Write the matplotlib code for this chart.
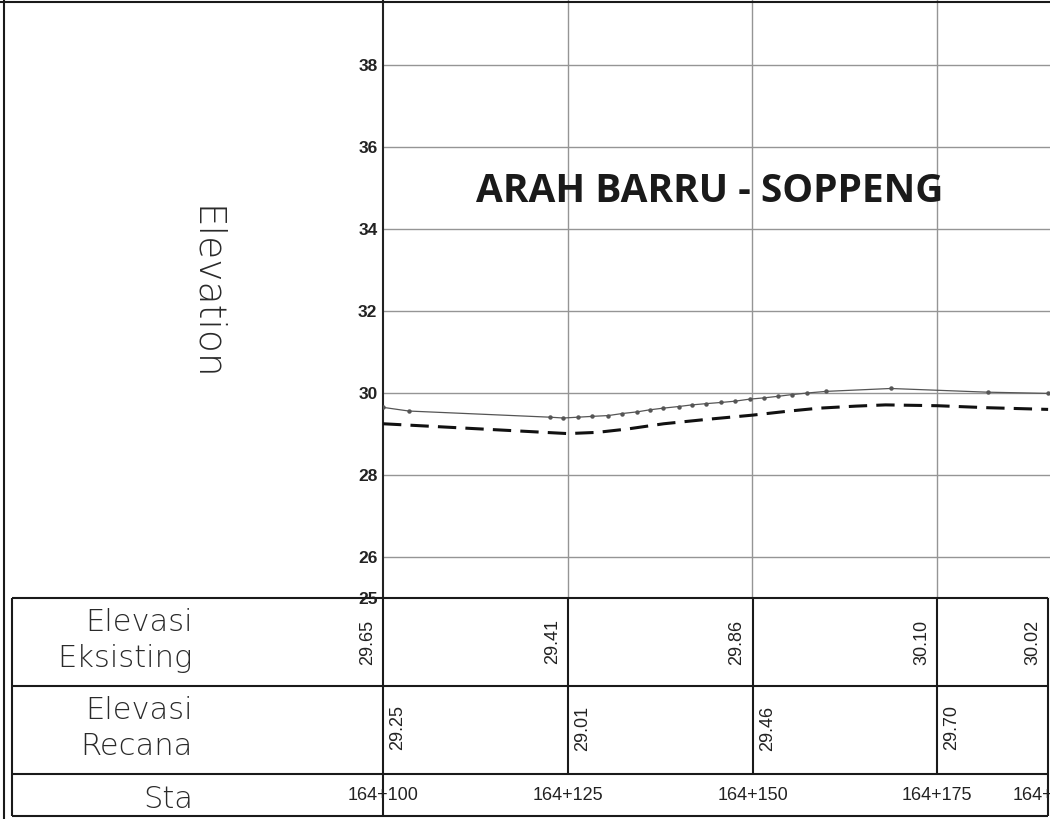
import matplotlib
matplotlib.use("Agg")
import matplotlib.pyplot as plt

# stations shown in the table (164+xxx)
stations = [100, 125, 150, 175, 190]
station_labels = ["164+100", "164+125", "164+150", "164+175", "164+190"]
elev_existing_tbl = [29.65, 29.41, 29.86, 30.10, 30.02]
elev_design_tbl = [29.25, 29.01, 29.46, 29.70]

# existing ground profile (thin line with survey dots)
existing_sta = [100, 103.5, 122.6, 124.4, 126.4, 128.3, 130.5, 132.4, 134.4, 136.1,
                137.9, 140.0, 141.8, 143.7, 145.8, 147.6, 149.6, 151.5, 153.5, 155.3,
                157.4, 160.0, 168.7, 181.8, 190.0]
existing_elev = [29.65, 29.56, 29.41, 29.39, 29.41, 29.43, 29.45, 29.50, 29.54, 29.59,
                 29.63, 29.67, 29.71, 29.74, 29.77, 29.80, 29.85, 29.88, 29.92, 29.96,
                 30.00, 30.04, 30.11, 30.02, 29.99]

# design profile (dashed)
design_sta = [100, 125, 129, 133, 138, 144, 150, 155, 159, 164, 168, 175, 182, 190]
design_elev = [29.25, 29.01, 29.04, 29.12, 29.25, 29.36, 29.46, 29.56, 29.63, 29.68,
               29.71, 29.69, 29.64, 29.60]

y_ticks = [25, 26, 28, 30, 32, 34, 36, 38]

W, H = 1050, 819
X0 = 383          # pixel column of 164+100
PX_PER_M = 7.39
PX_PER_UNIT = 41
PLOT_BOTTOM = 598  # pixel row of elevation 25 / table top
ROW1, ROW2, ROW3, ROW_END = 598, 686, 774, 816
LEFT_PX = 12


def px_to_sta(px):
    return 100 + (px - X0) / PX_PER_M


fig = plt.figure(figsize=(W / 100, H / 100), dpi=100)

# profile plot
ax = fig.add_axes([X0 / W, (H - PLOT_BOTTOM) / H, (W - X0) / W, PLOT_BOTTOM / H])
ax.set_xlim(100, px_to_sta(W))
ax.set_ylim(25, 25 + PLOT_BOTTOM / PX_PER_UNIT)
ax.set_yticks(y_ticks)
ax.set_yticklabels([str(t) for t in y_ticks], fontfamily="Liberation Sans",
                   fontweight="bold", fontsize=12.5, color="#222222")
ax.set_xticks(stations[1:4])
ax.set_xticklabels([])
ax.tick_params(length=0, pad=4)
ax.grid(True, color="#959595", linewidth=1.0)
for side in ["top", "right", "bottom"]:
    ax.spines[side].set_visible(False)
ax.spines["left"].set_linewidth(1.5)
ax.spines["left"].set_color("#222222")

ax.plot(existing_sta, existing_elev, color="#555555", linewidth=0.9,
        marker="o", markersize=2.2, zorder=3)
ax.plot(design_sta, design_elev, color="#111111", linewidth=2.2,
        linestyle=(0, (6, 3)), zorder=3)

# overlay in station / pixel coordinates for table and frame
tb = fig.add_axes([0, 0, 1, 1])
tb.set_xlim(px_to_sta(0), px_to_sta(W))
tb.set_ylim(H, 0)
tb.axis("off")
tb.patch.set_alpha(0)

line_kw = dict(color="#1a1a1a", linewidth=1.5)
x_left = px_to_sta(LEFT_PX)
x_right = stations[-1]
for y in [ROW1, ROW2, ROW3, ROW_END]:
    tb.hlines(y, x_left, x_right, **line_kw)
tb.vlines([x_left, stations[0], x_right], ROW1, ROW_END, **line_kw)
tb.vlines(stations[1:4], ROW1, ROW3, **line_kw)
# drawing frame
tb.vlines(px_to_sta(4), 0, H, **line_kw)
tb.hlines(2, px_to_sta(0), px_to_sta(W), **line_kw)

# row headers
hdr_kw = dict(fontfamily="DejaVu Sans", fontweight="light", fontsize=22,
              color="#2a2a2a", ha="right", va="baseline")
hx = px_to_sta(193)
tb.text(hx, 631, "Elevasi", **hdr_kw)
tb.text(hx, 667, "Eksisting", **hdr_kw)
tb.text(hx, 719, "Elevasi", **hdr_kw)
tb.text(hx, 755, "Recana", **hdr_kw)
tb.text(hx, 808, "Sta", **hdr_kw)

tb.text(px_to_sta(205), 293, "Elevation", fontfamily="DejaVu Sans", fontweight="light",
        fontsize=27, color="#2a2a2a", rotation=270, ha="center", va="center")

# table values
val_kw = dict(fontfamily="Liberation Sans", fontsize=13, color="#222222",
              rotation=90, ha="center", va="center")
for s, v in zip(stations, elev_existing_tbl):
    tb.text(s - 2.1, (ROW1 + ROW2) / 2, f"{v:.2f}", **val_kw)
for s, v in zip(stations, elev_design_tbl):
    tb.text(s + 2.0, (ROW2 + ROW3) / 2 - 2, f"{v:.2f}", **val_kw)
# the last station label runs off the right edge, as in the drawing
for s, lab in zip(stations, station_labels):
    tb.text(s, 795, lab, fontfamily="Liberation Sans", fontsize=13, color="#222222",
            ha="center", va="center")

tb.text(px_to_sta(710), 202, "ARAH BARRU - SOPPENG", fontfamily="Open Sans",
        fontweight="bold", fontsize=28, color="#1a1a1a", ha="center", va="baseline")

fig.savefig("out.png", dpi=100)
